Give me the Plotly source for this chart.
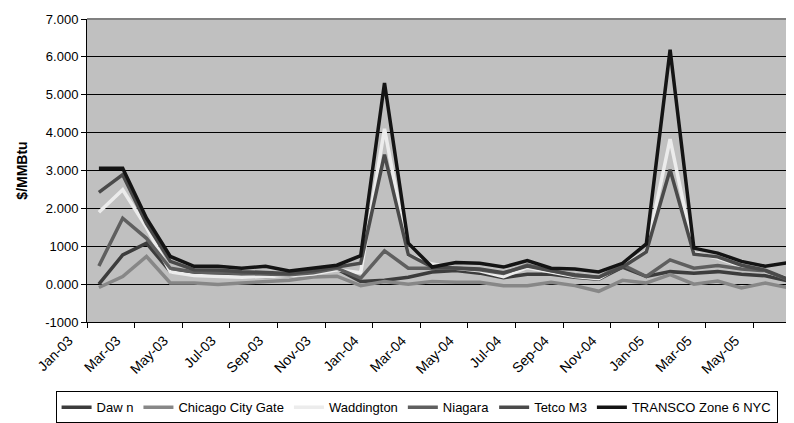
import plotly.graph_objects as go

months = ["Jan-03","Feb-03","Mar-03","Apr-03","May-03","Jun-03","Jul-03","Aug-03","Sep-03","Oct-03","Nov-03","Dec-03",
          "Jan-04","Feb-04","Mar-04","Apr-04","May-04","Jun-04","Jul-04","Aug-04","Sep-04","Oct-04","Nov-04","Dec-04",
          "Jan-05","Feb-05","Mar-05","Apr-05","May-05","Jun-05"]

dawn = [0.00,0.77,1.08,0.33,0.28,0.25,0.20,0.20,0.22,0.30,0.40,0.07,0.10,0.18,0.32,0.36,0.29,0.17,0.26,0.26,0.18,0.13,0.45,0.20,0.33,0.29,0.33,0.26,0.22,0.08]
chicago = [-0.09,0.20,0.73,0.03,0.03,-0.01,0.03,0.07,0.10,0.19,0.21,-0.04,0.07,0.00,0.07,0.05,0.05,-0.04,-0.04,0.05,-0.04,-0.19,0.10,0.03,0.25,0.00,0.08,-0.10,0.03,-0.10]
waddington = [1.90,2.49,1.50,0.32,0.23,0.20,0.18,0.20,0.22,0.27,0.38,0.30,4.10,0.77,0.53,0.42,0.35,0.20,0.44,0.32,0.20,0.14,0.50,0.86,3.83,0.82,0.69,0.47,0.34,0.14]
niagara = [0.48,1.74,1.21,0.42,0.32,0.30,0.28,0.25,0.25,0.30,0.42,0.16,0.88,0.42,0.42,0.42,0.38,0.28,0.50,0.35,0.22,0.18,0.51,0.20,0.64,0.42,0.49,0.40,0.35,0.11]
tetco = [2.42,2.89,1.60,0.60,0.38,0.37,0.33,0.30,0.28,0.35,0.45,0.55,3.42,0.78,0.45,0.42,0.40,0.30,0.48,0.35,0.25,0.18,0.45,0.85,3.02,0.79,0.72,0.50,0.37,0.12]
transco = [3.06,3.06,1.74,0.73,0.47,0.47,0.42,0.47,0.35,0.43,0.50,0.75,5.31,1.08,0.45,0.57,0.55,0.45,0.62,0.42,0.40,0.32,0.55,1.06,6.19,0.95,0.82,0.60,0.47,0.57]

series_names = ["Daw n", "Chicago City Gate", "Waddington", "Niagara", "Tetco M3", "TRANSCO Zone 6 NYC"]
series_values = [dawn, chicago, waddington, niagara, tetco, transco]
series_colors = ["#3c3c3c", "#878787", "#ececec", "#5f5f5f", "#4a4a4a", "#141414"]

y_tickvals = [-1, 0, 1, 2, 3, 4, 5, 6, 7]
y_ticktext = ["-1000", "0.000", "1000", "2.000", "3.000", "4.000", "5.000", "6.000", "7.000"]

FONT = "Liberation Sans, Arial, sans-serif"

fig = go.Figure()
for name, vals, col in zip(series_names, series_values, series_colors):
    fig.add_trace(go.Scatter(x=months, y=vals, name=name, mode="lines",
                             line=dict(color=col, width=3.5)))

fig.update_layout(
    width=794, height=423,
    margin=dict(l=79, r=1, t=11, b=109),
    paper_bgcolor="white",
    plot_bgcolor="#c0c0c0",
    font=dict(family=FONT, size=13, color="black"),
    showlegend=True,
    legend=dict(orientation="h", x=-0.044, xanchor="left", y=-0.229, yanchor="top",
                bordercolor="black", borderwidth=1, bgcolor="white",
                font=dict(family=FONT, size=13, color="black"),
                itemwidth=30, tracegroupgap=0),
    xaxis=dict(type="category", range=[-0.5, 29.5], tickson="boundaries", tick0=0, dtick=2,
               tickangle=-45, ticks="outside", ticklen=5, tickcolor="black",
               ticklabelshift=-30, ticklabelstandoff=4,
               showgrid=False, showline=True, linecolor="black", linewidth=1,
               tickfont=dict(family=FONT, size=14, color="black")),
    yaxis=dict(range=[-1, 7], tickvals=y_tickvals, ticktext=y_ticktext,
               ticks="outside", ticklen=5, tickcolor="black",
               showgrid=True, gridcolor="black", gridwidth=1, zeroline=False,
               showline=True, linecolor="black", linewidth=1,
               tickfont=dict(family=FONT, size=13, color="black"),
               title=dict(text="<b>$/MMBtu</b>", font=dict(family=FONT, size=14, color="black"), standoff=14)),
    shapes=[
        dict(type="line", xref="paper", yref="paper", x0=0, x1=1, y0=1, y1=1,
             line=dict(color="#808080", width=2), layer="above"),
        dict(type="line", xref="paper", yref="paper", x0=1, x1=1, y0=0, y1=1,
             line=dict(color="#808080", width=2), layer="above"),
    ],
)

fig.write_html("out.html")
